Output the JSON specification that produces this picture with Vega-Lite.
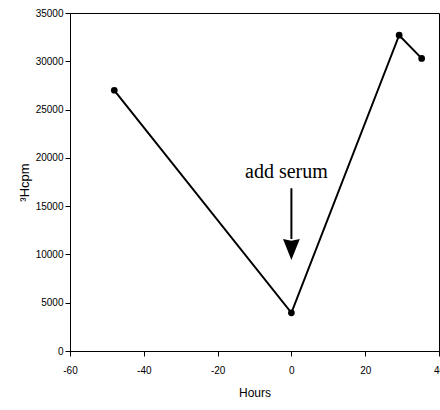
{
  "$schema": "https://vega.github.io/schema/vega-lite/v6.json",
  "width": 369,
  "height": 338,
  "autosize": "none",
  "padding": {"left": 70, "top": 13, "right": 1, "bottom": 59},
  "background": "white",
  "config": {
    "view": {"stroke": "black", "strokeWidth": 1},
    "axis": {
      "grid": false,
      "domainColor": "black",
      "tickColor": "black",
      "labelColor": "black",
      "titleColor": "black",
      "labelFont": "Liberation Sans",
      "titleFont": "Liberation Sans",
      "labelFontSize": 10,
      "titleFontSize": 12,
      "titleFontWeight": "normal",
      "tickSize": 5
    }
  },
  "layer": [
    {
      "data": {"values": [
        {"hours": -48, "cpm": 27000},
        {"hours": 0, "cpm": 3950},
        {"hours": 29.2, "cpm": 32700},
        {"hours": 35.3, "cpm": 30300}
      ]},
      "mark": {"type": "line", "color": "black", "strokeWidth": 2,
               "point": {"filled": true, "color": "black", "size": 45, "opacity": 1}},
      "encoding": {
        "x": {"field": "hours", "type": "quantitative",
              "scale": {"domain": [-60, 40], "nice": false},
              "axis": {"values": [-60, -40, -20, 0, 20, 40], "title": "Hours", "labelPadding": 9, "titlePadding": 12, "labelFlush": false,
                       "labelExpr": "replace(datum.label, '−', '-')"}},
        "y": {"field": "cpm", "type": "quantitative",
              "scale": {"domain": [0, 35000], "nice": false},
              "axis": {"values": [0, 5000, 10000, 15000, 20000, 25000, 30000, 35000], "title": "³Hcpm", "titleFontSize": 13, "labelPadding": 2, "titlePadding": 4, "format": "d"}}
      }
    },
    {
      "data": {"values": [{"hours": 0, "top": 16850, "bottom": 11600}]},
      "mark": {"type": "rule", "color": "black", "strokeWidth": 2},
      "encoding": {
        "x": {"field": "hours", "type": "quantitative"},
        "y": {"field": "top", "type": "quantitative"},
        "y2": {"field": "bottom"}
      }
    },
    {
      "data": {"values": [{"hours": 0, "cpm": 10500}]},
      "mark": {"type": "point", "shape": "M-0.8,-1L0,-0.85L0.8,-1L0,1Z", "filled": true, "color": "black", "opacity": 1, "size": 441},
      "encoding": {
        "x": {"field": "hours", "type": "quantitative"},
        "y": {"field": "cpm", "type": "quantitative"}
      }
    },
    {
      "data": {"values": [{"hours": 0, "cpm": 17950, "label": "add serum"}]},
      "mark": {"type": "text", "font": "Liberation Serif", "fontSize": 20, "baseline": "alphabetic", "align": "center", "dx": -5, "color": "black"},
      "encoding": {
        "x": {"field": "hours", "type": "quantitative"},
        "y": {"field": "cpm", "type": "quantitative"},
        "text": {"field": "label"}
      }
    }
  ]
}
